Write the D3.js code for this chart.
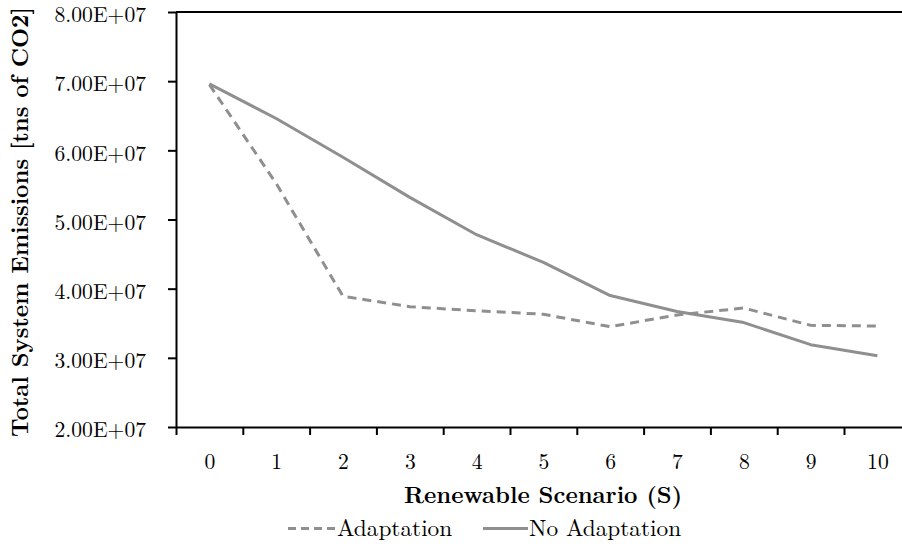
<!DOCTYPE html>
<html><head><meta charset="utf-8">
<script src="https://cdn.jsdelivr.net/npm/d3@7"></script>
<style>body{margin:0;background:#fff}svg{display:block}</style>
</head><body><svg id="c" width="902" height="544"></svg>
<script>
const scenarios = [0,1,2,3,4,5,6,7,8,9,10];
const adaptation = [6.95e7,5.52e7,3.89e7,3.74e7,3.68e7,3.63e7,3.45e7,3.62e7,3.72e7,3.47e7,3.46e7];
const noAdaptation = [6.96e7,6.46e7,5.90e7,5.32e7,4.78e7,4.38e7,3.90e7,3.67e7,3.51e7,3.19e7,3.03e7];
const yTicks = [2e7,3e7,4e7,5e7,6e7,7e7,8e7];
const seriesNames = ["Adaptation","No Adaptation"];
const xTitle = "Renewable Scenario (S)";
const yTitle = "Total System Emissions [tns of CO2]";

const svg = d3.select("#c");
const font = "'Latin Modern Roman', 'Liberation Serif', serif";
const lineColor = "#8f8f8f";
const tickFs = "21.6px", textFs = "23.3px";

const x = d3.scaleLinear().domain([-0.5, 10.5]).range([176, 910.8]);
const y = d3.scaleLinear().domain([2e7, 8e7]).range([427, 12]);

// top border
svg.append("line").attr("x1", x(-0.5)).attr("x2", x(10.5))
  .attr("y1", y(8e7)).attr("y2", y(8e7)).attr("stroke", "#000").attr("stroke-width", 2);

// y axis
const yAx = svg.append("g").attr("transform", `translate(${x(-0.5)},0)`)
  .call(d3.axisLeft(y).tickValues(yTicks).tickSize(8).tickSizeOuter(0).tickPadding(22)
    .tickFormat(v => (v / 1e7).toFixed(2) + "E+07"));
yAx.attr("font-family", null).attr("font-size", null);
yAx.selectAll("path,line").attr("stroke", "#000").attr("stroke-width", 2);
yAx.selectAll("text").style("font-family", font).style("font-size", tickFs).attr("fill", "#000").attr("dy", "0.45em");

// x axis boundary ticks
const xAx = svg.append("g").attr("transform", `translate(0,${y(2e7)})`)
  .call(d3.axisBottom(x).tickValues(d3.range(-0.5, 11, 1)).tickSize(8).tickSizeOuter(0).tickFormat(""));
xAx.selectAll("path,line").attr("stroke", "#000").attr("stroke-width", 2);

// x labels
const xLab = svg.append("g").attr("transform", `translate(0,${y(2e7)})`)
  .call(d3.axisBottom(x).tickValues(scenarios).tickSize(0).tickPadding(27).tickFormat(d => String(d)));
xLab.attr("font-family", null).attr("font-size", null);
xLab.select(".domain").remove();
xLab.selectAll("text").style("font-family", font).style("font-size", tickFs).attr("fill", "#000");

// lines
const line = d3.line().x((v, i) => x(scenarios[i])).y(v => y(v));
svg.append("path").attr("d", line(noAdaptation)).attr("fill", "none")
  .attr("stroke", lineColor).attr("stroke-width", 3).attr("stroke-linejoin", "round");
svg.append("path").attr("d", line(adaptation)).attr("fill", "none")
  .attr("stroke", lineColor).attr("stroke-width", 3).attr("stroke-dasharray", "9,6");

// titles
svg.append("text").attr("x", 543).attr("y", 502.5).attr("text-anchor", "middle")
  .style("font-family", font).style("font-weight", "bold").style("font-size", textFs).text(xTitle);
svg.append("text").attr("transform", "translate(28,222) rotate(-90)").attr("text-anchor", "middle")
  .style("font-family", font).style("font-weight", "bold").style("font-size", textFs).text(yTitle);

// legend
const leg = [
  {name: seriesNames[0], x1: 288, x2: 336, dash: "8,5"},
  {name: seriesNames[1], x1: 483, x2: 528, dash: null}
];
leg.forEach(l => {
  const ln = svg.append("line").attr("x1", l.x1).attr("x2", l.x2).attr("y1", 528.5).attr("y2", 528.5)
    .attr("stroke", lineColor).attr("stroke-width", 3);
  if (l.dash) ln.attr("stroke-dasharray", l.dash);
  svg.append("text").attr("x", l.x2 + 1).attr("y", 535.5)
    .style("font-family", font).style("font-size", textFs).attr("fill", "#000").text(l.name);
});
</script></body></html>
